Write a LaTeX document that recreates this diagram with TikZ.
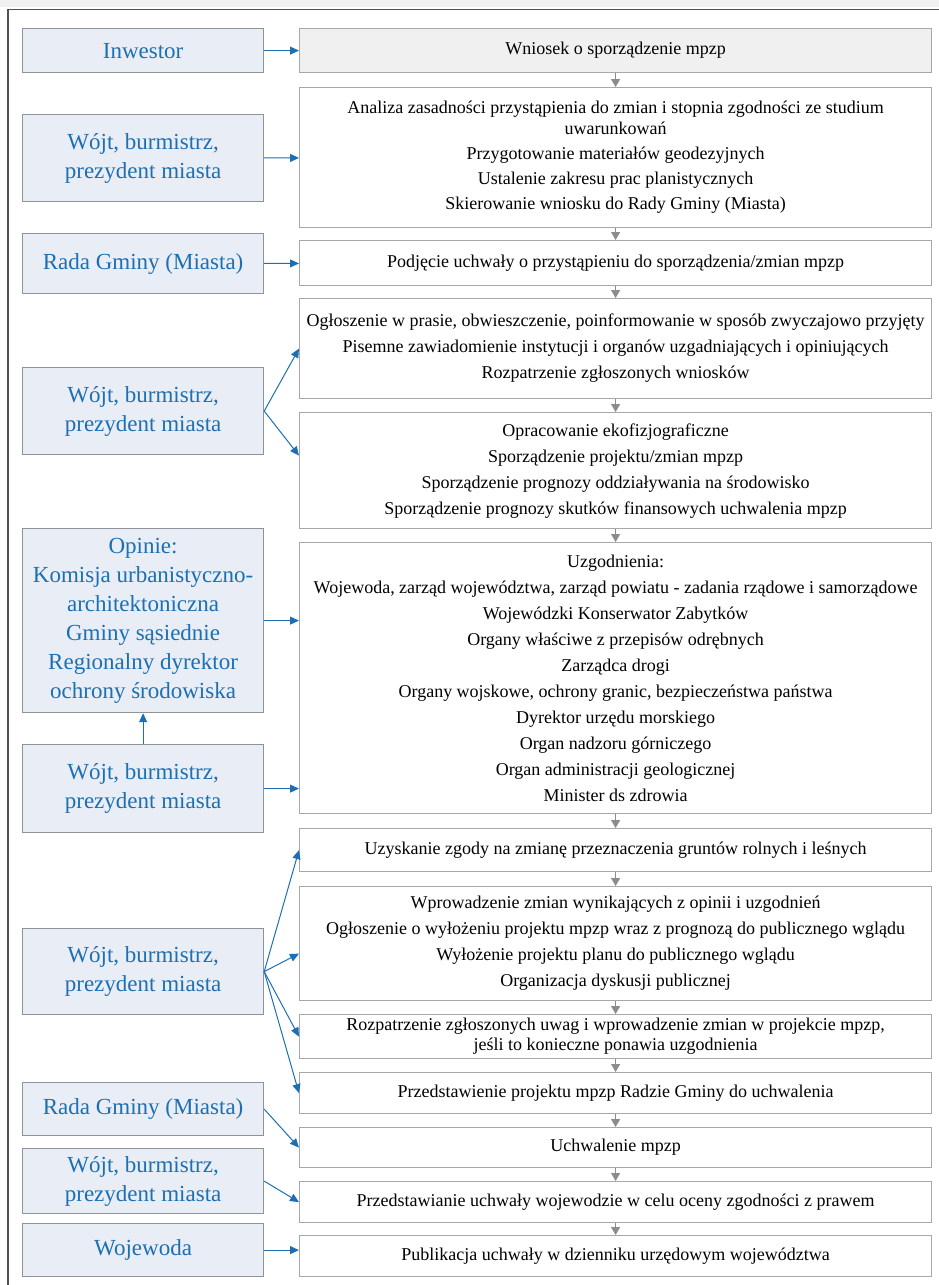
\documentclass[tikz,border=0pt]{standalone}
\usepackage{fontspec}
\setmainfont{Liberation Serif}
\usetikzlibrary{arrows.meta, positioning}
\definecolor{actorblue}{HTML}{1C6FB2}
\definecolor{actorfill}{HTML}{E9EEF6}
\definecolor{actorline}{HTML}{8E9399}
\definecolor{stageline}{HTML}{A8A8A8}
\definecolor{flowgray}{HTML}{8C8C8C}
\definecolor{bandgray}{HTML}{F0F0F0}
\definecolor{framegray}{HTML}{505050}

\begin{document}
\begin{tikzpicture}[
    x=1pt, y=-1pt,
    every node/.style = {font=\fontsize{18}{26}\selectfont},
    actor/.style = {rectangle, draw=actorline, fill=actorfill, line width=1.2pt,
                    text=actorblue, anchor=north west, minimum width=241pt,
                    inner sep=0pt, align=center, font=\fontsize{23}{29}\selectfont},
    stage/.style = {rectangle, draw=stageline, fill=white, line width=1.2pt,
                    anchor=north west, minimum width=632pt, inner sep=0pt, align=center},
    arrow/.style = {-{Triangle[length=9pt, width=8pt]}, line width=1pt, color=actorblue},
    flow/.style = {-{Triangle[length=8pt, width=9pt]}, line width=1.2pt, color=flowgray}
  ]
    \useasboundingbox (0,0) rectangle (939,1285);

    % Frame
    \fill[bandgray] (0,0) rectangle (939,7);
    \draw[framegray, line width=1.5pt] (939,9.5) -- (8,9.5) -- (8,1285);

    % Stages
    \node[stage, fill=bandgray, minimum height=44pt] (wniosek) at (299,28) {Wniosek o sporządzenie mpzp};
    \node[stage, minimum height=140pt] (analiza) at (299,87) {Analiza zasadności przystąpienia do zmian i stopnia zgodności ze studium\\[-5pt]
      uwarunkowań\\[-1pt] Przygotowanie materiałów geodezyjnych\\[-1pt] Ustalenie zakresu prac planistycznych\\[-1pt]
      Skierowanie wniosku do Rady Gminy (Miasta)};
    \node[stage, minimum height=45pt] (podjecie) at (299,240) {Podjęcie uchwały o przystąpieniu do sporządzenia/zmian mpzp};
    \node[stage, minimum height=100pt] (ogloszenie) at (299,298) {Ogłoszenie w prasie, obwieszczenie, poinformowanie w sposób zwyczajowo przyjęty\\
      Pisemne zawiadomienie instytucji i organów uzgadniających i opiniujących\\ Rozpatrzenie zgłoszonych wniosków};
    \node[stage, minimum height=116pt] (opracowanie) at (299,412) {Opracowanie ekofizjograficzne\\ Sporządzenie projektu/zmian mpzp\\
      Sporządzenie prognozy oddziaływania na środowisko\\ Sporządzenie prognozy skutków finansowych uchwalenia mpzp};
    \node[stage, minimum height=271pt] (uzgodnienia) at (299,542) {Uzgodnienia:\\
      Wojewoda, zarząd województwa, zarząd powiatu - zadania rządowe i samorządowe\\
      Wojewódzki Konserwator Zabytków\\ Organy właściwe z przepisów odrębnych\\ Zarządca drogi\\
      Organy wojskowe, ochrony granic, bezpieczeństwa państwa\\ Dyrektor urzędu morskiego\\
      Organ nadzoru górniczego\\ Organ administracji geologicznej\\ Minister ds zdrowia};
    \node[stage, minimum height=43pt] (zgoda) at (299,828) {Uzyskanie zgody na zmianę przeznaczenia gruntów rolnych i leśnych};
    \node[stage, minimum height=114pt] (zmiany) at (299,886) {Wprowadzenie zmian wynikających z opinii i uzgodnień\\
      Ogłoszenie o wyłożeniu projektu mpzp wraz z prognozą do publicznego wglądu\\
      Wyłożenie projektu planu do publicznego wglądu\\ Organizacja dyskusji publicznej};
    \node[stage, minimum height=44pt] (uwagi) at (299,1014) {Rozpatrzenie zgłoszonych uwag i wprowadzenie zmian w projekcie mpzp,\\[-6pt]
      jeśli to konieczne ponawia uzgodnienia};
    \node[stage, minimum height=41pt] (projekt) at (299,1072) {Przedstawienie projektu mpzp Radzie Gminy do uchwalenia};
    \node[stage, minimum height=40pt] (uchwalenie) at (299,1127) {Uchwalenie mpzp};
    \node[stage, minimum height=41pt] (ocena) at (299,1181) {Przedstawianie uchwały wojewodzie w celu oceny zgodności z prawem};
    \node[stage, minimum height=41pt] (publikacja) at (299,1235) {Publikacja uchwały w dzienniku urzędowym województwa};

    % Actors
    \node[actor, minimum height=44pt] (inwestor) at (22,28) {Inwestor};
    \node[actor, minimum height=87pt] (wojtA) at (22,114) {Wójt, burmistrz,\\ prezydent miasta};
    \node[actor, minimum height=60pt] (radaA) at (22,233) {Rada Gminy (Miasta)};
    \node[actor, minimum height=87pt] (wojtB) at (22,367) {Wójt, burmistrz,\\ prezydent miasta};
    \node[actor, minimum height=184pt] (opinie) at (22,528) {Opinie:\\ Komisja urbanistyczno-\\ architektoniczna\\
      Gminy sąsiednie\\ Regionalny dyrektor\\ ochrony środowiska};
    \node[actor, minimum height=88pt] (wojtC) at (22,744) {Wójt, burmistrz,\\ prezydent miasta};
    \node[actor, minimum height=86pt] (wojtD) at (22,928) {Wójt, burmistrz,\\ prezydent miasta};
    \node[actor, minimum height=53pt] (radaB) at (22,1082) {Rada Gminy (Miasta)};
    \node[actor, minimum height=65pt] (wojtE) at (22,1148) {Wójt, burmistrz,\\ prezydent miasta};
    \node[actor, minimum height=53pt] (wojewoda) at (22,1223) {Wojewoda};

    % Flow
    \foreach \a/\b in {wniosek/analiza, analiza/podjecie, podjecie/ogloszenie, ogloszenie/opracowanie,
                       opracowanie/uzgodnienia, uzgodnienia/zgoda, zgoda/zmiany, zmiany/uwagi,
                       uwagi/projekt, projekt/uchwalenie, uchwalenie/ocena, ocena/publikacja}
      \draw[flow] (\a) -- (\b);

    % Arrows
    \draw[arrow] (inwestor) -- (wniosek);
    \draw[arrow] (wojtA) -- (analiza);
    \draw[arrow] (radaA) -- (podjecie);
    \draw[arrow] (wojtB.east) -- (ogloszenie.west);
    \draw[arrow] (wojtB.east) -- ([yshift=15pt]opracowanie.west);
    \draw[arrow] (opinie.east) -- (opinie.east -| uzgodnienia.west);
    \draw[arrow] (wojtC.east) -- (wojtC.east -| uzgodnienia.west);
    \draw[arrow] (wojtC) -- (opinie);
    \draw[arrow] (wojtD.east) -- (zgoda.west);
    \draw[arrow] (wojtD.east) -- ([yshift=-10pt]zmiany.west);
    \draw[arrow] (wojtD.east) -- (uwagi.west);
    \draw[arrow] (wojtD.east) -- (projekt.west);
    \draw[arrow] (radaB.east) -- (uchwalenie.west);
    \draw[arrow] (wojtE.east) -- (ocena.west);
    \draw[arrow] (wojewoda.east) -- (wojewoda.east -| publikacja.west);

  \end{tikzpicture}
\end{document}
